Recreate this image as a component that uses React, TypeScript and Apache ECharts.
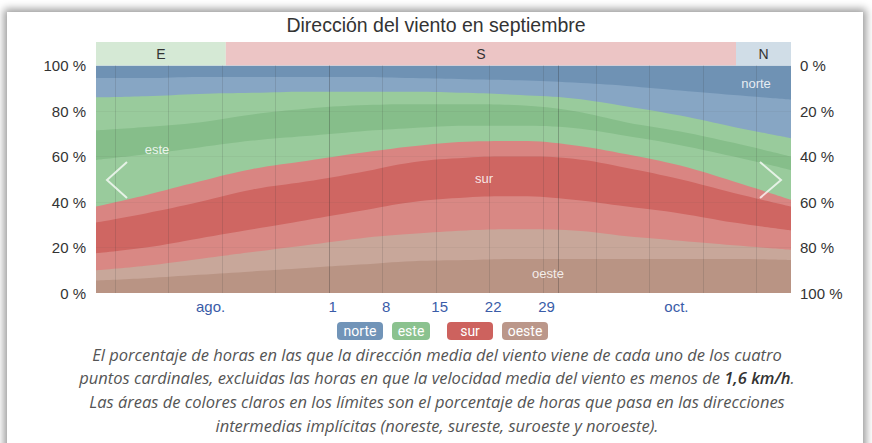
import React, { useEffect, useRef } from "react";
import * as echarts from "echarts";

// Day positions (0 = start of Aug 1)
const days = [0.5, 7, 14, 21, 28, 35, 42, 49, 56, 63, 70, 77, 84, 91.5];

// Layer thickness (% of hours), bottom to top
const oeste = [5.5, 6.5, 8, 9.5, 11, 12.5, 14, 14.5, 15, 15, 15, 15, 15, 14.5];
const oesteSW = [4.5, 5.5, 7, 8.5, 10, 11.5, 12, 13, 13, 12.5, 10, 8, 6, 4.5];
const surSW = [7.5, 8, 9, 10, 11, 12, 14, 14.5, 14.5, 13.5, 13, 12, 10, 8.5];
const sur = [13.5, 15, 16, 17.5, 17, 17, 17.5, 17.5, 17.5, 18, 17, 15, 13, 10.5];
const surSE = [7, 8, 9, 9, 9, 8.5, 7, 7, 6.8, 6, 6, 6, 5, 3];
const esteSE = [20.5, 18, 15, 12.5, 11, 9.5, 8, 7, 6.7, 7.5, 8, 9, 11, 13];
const este = [13, 12, 11, 11.5, 12, 11.5, 10.5, 9.5, 9, 7.5, 6, 6, 6, 6];
const esteNE = [14.5, 13.5, 12.5, 9.5, 7.5, 6, 5.5, 5, 4.5, 5.5, 7, 7, 7, 8];
const norteNE = [8.5, 8, 7.5, 7, 6.5, 6.5, 6, 6, 6.5, 7, 9, 11, 14, 17];
const norte = [5.5, 5.5, 5, 5, 5, 5, 5.5, 6, 6.5, 7.5, 9, 11, 13, 15];

// X axis labels
const xLabelDays = [15.5, 31.5, 38.5, 45.5, 52.5, 59.5, 76.5];
const xLabelTexts = ["ago.", "1", "8", "15", "22", "29", "oct."];

// Vertical grid lines (weeks and month starts)
const weekLines = [3, 10, 17, 24, 38, 45, 52, 59, 66, 73, 80, 87];
const monthLines = [31, 61];

// Top band (dominant direction)
const bandLabels = ["E", "S", "N"];
const bandStarts = [0.5, 17.5, 84.3];
const bandEnds = [17.5, 84.3, 91.5];
const bandColors = ["#d5e9d5", "#ecc5c5", "#d0dde7"];

// Legend
const legendNames = ["norte", "este", "sur", "oeste"];
const legendColors = ["#7194b8", "#8bc28f", "#cd625e", "#bb978a"];

const layers = [
  { name: "oeste", data: oeste, color: "#b99484" },
  { name: "oesteSW", data: oesteSW, color: "#c8a79a" },
  { name: "surSW", data: surSW, color: "#d98884" },
  { name: "sur", data: sur, color: "#cf6662" },
  { name: "surSE", data: surSE, color: "#d98582" },
  { name: "esteSE", data: esteSE, color: "#99cb9c" },
  { name: "este", data: este, color: "#86be8a" },
  { name: "esteNE", data: esteNE, color: "#99cb9c" },
  { name: "norteNE", data: norteNE, color: "#87a6c4" },
  { name: "norte", data: norte, color: "#6f92b4" },
];

const captionLines = [
  "El porcentaje de horas en las que la dirección media del viento viene de cada uno de los cuatro",
  "puntos cardinales, excluidas las horas en que la velocidad media del viento es menos de {b|1,6 km/h}.",
  "Las áreas de colores claros en los límites son el porcentaje de horas que pasa en las direcciones",
  "intermedias implícitas (noreste, sureste, suroeste y noroeste).",
];

const FONT = "'Liberation Sans', Arial, sans-serif";

export default function App() {
  const ref = useRef<HTMLDivElement>(null);
  useEffect(() => {
    if (!ref.current) return;
    const chart = echarts.init(ref.current, null, { renderer: "svg" });

    // cumulative tops, bottom to top
    const tops: number[][] = [];
    layers.forEach((l, k) => {
      tops.push(days.map((_, i) => (k > 0 ? tops[k - 1][i] : 0) + l.data[i]));
    });

    // draw from top layer down so lower layers cover the upper fills
    const areaSeries = layers
      .map((l, k) => ({
        name: l.name,
        type: "line",
        xAxisIndex: 0,
        yAxisIndex: 0,
        smooth: 0.4,
        symbol: "none",
        lineStyle: { width: 0 },
        areaStyle: { color: l.color, opacity: 1, origin: "start" },
        data: days.map((d, i) => [d, tops[k][i]]),
        silent: true,
      }))
      .reverse();

    const lineSeries = {
      type: "line",
      xAxisIndex: 0,
      yAxisIndex: 0,
      data: [[0.5, 0]],
      symbol: "none",
      lineStyle: { opacity: 0 },
      z: 10,
      silent: true,
      markLine: {
        silent: true,
        symbol: "none",
        label: { show: false },
        data: [
          ...weekLines.map((x) => ({ xAxis: x, lineStyle: { color: "rgba(50,50,50,0.14)", width: 1, type: "solid" } })),
          ...monthLines.map((x) => ({ xAxis: x, lineStyle: { color: "rgba(40,40,40,0.28)", width: 1, type: "solid" } })),
          ...[20, 40, 60, 80].map((y) => ({ yAxis: y, lineStyle: { color: "rgba(60,60,60,0.06)", width: 1, type: "solid" } })),
        ],
      },
    };

    const bandSeries = {
      type: "line",
      xAxisIndex: 1,
      yAxisIndex: 2,
      data: [[0.5, 0]],
      symbol: "none",
      lineStyle: { opacity: 0 },
      silent: true,
      markArea: {
        silent: true,
        data: bandLabels.map((lab, i) => [
          {
            name: lab,
            xAxis: bandStarts[i],
            itemStyle: { color: bandColors[i] },
            label: { show: true, position: "inside", color: "#333", fontSize: 14, fontFamily: FONT },
          },
          { xAxis: bandEnds[i] },
        ]),
      },
    };

    const legendX = [337, 392, 447, 502];
    const legendW = [46, 38, 46, 46];
    const legendGraphics = legendNames.map((n, i) => ({
      type: "group",
      children: [
        {
          type: "rect",
          shape: { x: legendX[i], y: 322, width: legendW[i], height: 18, r: 4 },
          style: { fill: legendColors[i] },
        },
        {
          type: "text",
          x: legendX[i] + legendW[i] / 2,
          y: 331,
          style: {
            text: n,
            fill: "#fff",
            fontSize: 14,
            fontFamily: "'Liberation Sans Narrow', 'Roboto', sans-serif",
            textAlign: "center",
            textVerticalAlign: "middle",
          },
        },
      ],
    }));

    const insideLabels = [
      { t: "este", x: 157, y: 149 },
      { t: "sur", x: 484, y: 178 },
      { t: "norte", x: 756, y: 83 },
      { t: "oeste", x: 548, y: 273 },
    ].map((o) => ({
      type: "text",
      x: o.x,
      y: o.y,
      z: 20,
      style: {
        text: o.t,
        fill: "rgba(255,255,255,0.85)",
        fontSize: 13,
        fontFamily: FONT,
        textAlign: "center",
        textVerticalAlign: "middle",
      },
    }));

    const captionGraphics = captionLines.map((t, i) => ({
      type: "text",
      x: 437,
      y: 354 + i * 23.7,
      style: {
        text: t,
        fill: "#555",
        fontSize: 16.5,
        fontStyle: "italic",
        fontFamily: "'Open Sans', sans-serif",
        textAlign: "center",
        textVerticalAlign: "middle",
        rich: {
          b: { fill: "#333", fontSize: 16.5, fontStyle: "italic", fontWeight: 600, fontFamily: "'Open Sans', sans-serif" },
        },
      },
    }));

    const option = {
      animation: false,
      title: {
        text: "Dirección del viento en septiembre",
        left: "center",
        top: 10,
        textStyle: { color: "#333", fontSize: 19.5, fontWeight: "normal", fontFamily: FONT },
      },
      grid: [
        { left: 96, top: 65.5, width: 695, height: 227.5 },
        { left: 96, top: 42, width: 695, height: 23.5 },
      ],
      xAxis: [
        {
          type: "value",
          gridIndex: 0,
          min: 0.5,
          max: 91.5,
          axisLine: { show: false },
          axisTick: { show: false },
          splitLine: { show: false },
          axisLabel: {
            customValues: xLabelDays,
            formatter: (v: number) => {
              const idx = xLabelDays.findIndex((d) => Math.abs(d - v) < 0.01);
              return idx >= 0 ? xLabelTexts[idx] : "";
            },
            color: "#3a5ca8",
            fontSize: 15,
            fontFamily: FONT,
            margin: 6,
          },
        },
        { type: "value", gridIndex: 1, min: 0.5, max: 91.5, show: false },
      ],
      yAxis: [
        {
          type: "value",
          gridIndex: 0,
          min: 0,
          max: 100,
          interval: 20,
          position: "left",
          axisLine: { show: false },
          axisTick: { show: false },
          splitLine: { show: false },
          axisLabel: { formatter: "{value} %", color: "#333", fontSize: 15, fontFamily: FONT, margin: 10 },
        },
        {
          type: "value",
          gridIndex: 0,
          min: 0,
          max: 100,
          interval: 20,
          inverse: true,
          position: "right",
          axisLine: { show: false },
          axisTick: { show: false },
          splitLine: { show: false },
          axisLabel: { formatter: "{value} %", color: "#333", fontSize: 15, fontFamily: FONT, margin: 9 },
        },
        { type: "value", gridIndex: 1, min: 0, max: 1, show: false },
      ],
      series: [...areaSeries, lineSeries, bandSeries],
      graphic: [
        ...insideLabels,
        {
          type: "polyline",
          z: 20,
          shape: { points: [[127, 162], [107, 180], [127, 198]] },
          style: { stroke: "rgba(255,255,255,0.75)", lineWidth: 2, fill: "none" },
        },
        {
          type: "polyline",
          z: 20,
          shape: { points: [[760, 162], [781, 180], [760, 198]] },
          style: { stroke: "rgba(255,255,255,0.75)", lineWidth: 2, fill: "none" },
        },
        ...legendGraphics,
        ...captionGraphics,
      ],
    };

    chart.setOption(option as any);
    return () => chart.dispose();
  }, []);

  return (
    <div style={{ position: "fixed", left: 0, top: 0, width: 872, height: 443, background: "#fff", overflow: "hidden" }}>
      <div
        style={{
          position: "absolute",
          left: 7,
          top: 12,
          width: 856,
          height: 470,
          background: "#fff",
          boxShadow: "0 0 8px 3px rgba(0,0,0,0.4)",
        }}
      />
      <div ref={ref} style={{ position: "absolute", left: 0, top: 0, width: 872, height: 443 }} />
    </div>
  );
}
